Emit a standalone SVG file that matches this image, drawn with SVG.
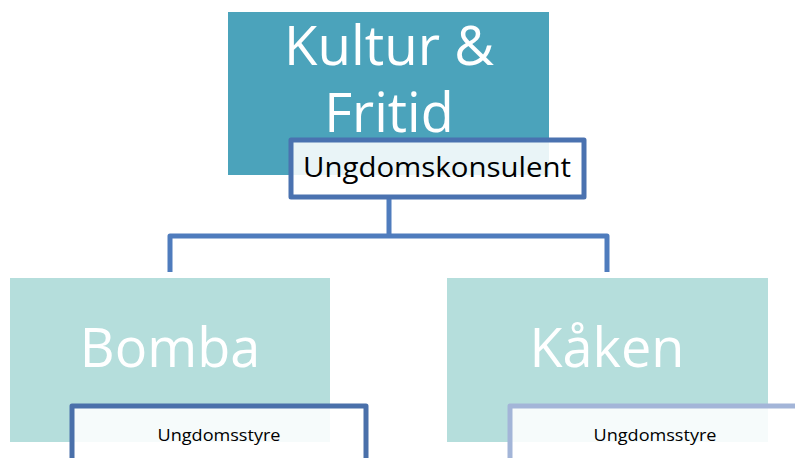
<svg xmlns="http://www.w3.org/2000/svg" width="795" height="458" viewBox="0 0 795 458">
<style>
.big{font-family:"Open Sans","Liberation Sans",sans-serif;font-size:54px;fill:#ffffff;text-anchor:middle}
.sub{font-family:"Open Sans","Liberation Sans",sans-serif;fill:#000000;text-anchor:middle}
.conn{fill:none;stroke:#4f7cbd;stroke-width:5;stroke-linejoin:round}
.lbl{fill:#ffffff;fill-opacity:0.88;stroke-width:5;stroke-linejoin:round}
</style>
<rect width="795" height="458" fill="#ffffff"/>
<g id="kultur">
<rect x="228" y="12" width="321" height="163" fill="#4ba3bb"/>
<text class="big" x="389" y="65" textLength="210" lengthAdjust="spacingAndGlyphs">Kultur &amp;</text>
<text class="big" x="389" y="132">Fritid</text>
</g>
<g id="connectors">
<path class="conn" d="M389 198 V236 M170 272 V236 H607 V272"/>
</g>
<g id="ungdomskonsulent">
<rect class="lbl" x="291" y="140" width="293" height="57" stroke="#4a72b0"/>
<text class="sub" x="437" y="177" font-size="27" textLength="268" lengthAdjust="spacingAndGlyphs">Ungdomskonsulent</text>
</g>
<g id="bomba">
<rect x="10" y="278" width="320" height="164" fill="#b5dedc"/>
<text class="big" x="170" y="367">Bomba</text>
</g>
<g id="kaken">
<rect x="447" y="278" width="321" height="164" fill="#b5dedc"/>
<text class="big" x="607" y="367">Kåken</text>
</g>
<g id="ungdomsstyre-bomba">
<rect class="lbl" x="72" y="406" width="294" height="70" stroke="#4a70aa"/>
<text class="sub" x="219" y="441" font-size="17" textLength="123" lengthAdjust="spacingAndGlyphs">Ungdomsstyre</text>
</g>
<g id="ungdomsstyre-kaken">
<rect class="lbl" x="510" y="406" width="320" height="70" stroke="#a3b5d8"/>
<text class="sub" x="655" y="441" font-size="17" textLength="123" lengthAdjust="spacingAndGlyphs">Ungdomsstyre</text>
</g>
</svg>
